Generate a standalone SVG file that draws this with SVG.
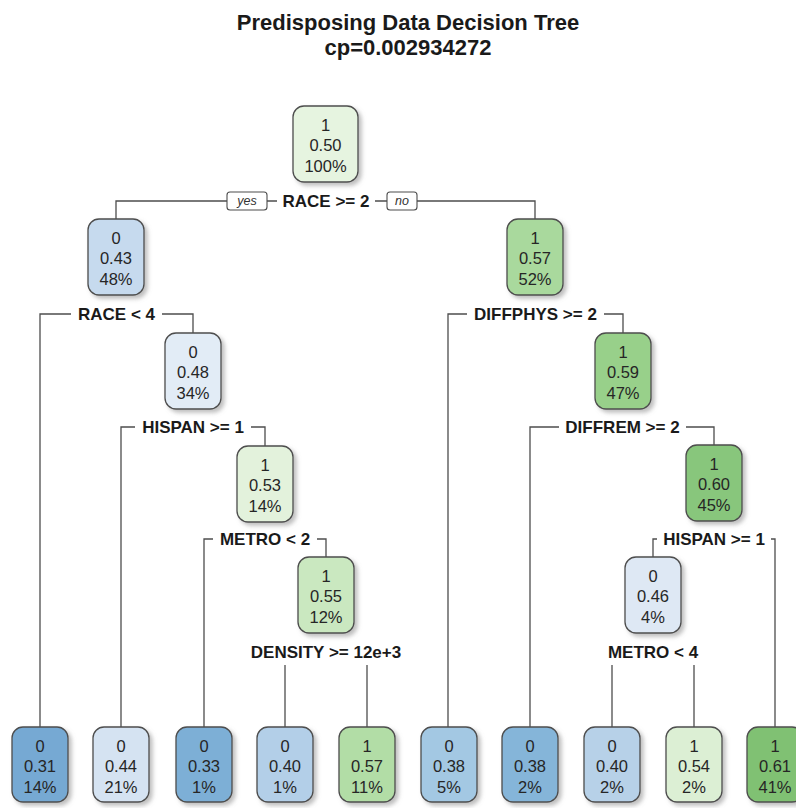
<svg xmlns="http://www.w3.org/2000/svg" width="796" height="808" viewBox="0 0 796 808">
<defs>
<filter id="sh" x="-20%" y="-20%" width="150%" height="150%">
<feDropShadow dx="3" dy="3" stdDeviation="2" flood-color="#888" flood-opacity="0.55"/>
</filter>
<style>
.box{stroke:#4d4d4d;stroke-width:1.3;filter:url(#sh)}
.nt{font-family:"Liberation Sans",Arial,sans-serif;font-size:16.5px;fill:#262626;text-anchor:middle}
.sl{font-family:"Liberation Sans",Arial,sans-serif;font-size:17px;font-weight:bold;fill:#1a1a1a;text-anchor:middle}
.bg{fill:#fff}
.con{fill:none;stroke:#4d4d4d;stroke-width:1.3}
.yn{fill:#fff;stroke:#4d4d4d;stroke-width:1.1}
.ynt{font-family:"Liberation Sans",Arial,sans-serif;font-size:12.5px;font-style:italic;fill:#333;text-anchor:middle}
.title{font-family:"Liberation Sans",Arial,sans-serif;font-size:22px;font-weight:bold;fill:#1a1a1a;text-anchor:middle}
</style>
</defs>
<rect width="796" height="808" fill="#fff"/>
<g id="title">
<text class="title" x="408" y="30">Predisposing Data Decision Tree</text>
<text class="title" x="408" y="55">cp=0.002934272</text>
</g>
<g id="connectors">
<path class="con" d="M116 219V201H535V219"/>
<path class="con" d="M40 727V314H193V333"/>
<path class="con" d="M448 727V314H623V333"/>
<path class="con" d="M121 727V427H265V446"/>
<path class="con" d="M530 727V427H714V445"/>
<path class="con" d="M204 727V539H326V557"/>
<path class="con" d="M653 557V539H775V727"/>
<path class="con" d="M285 727V665"/>
<path class="con" d="M367 727V665"/>
<path class="con" d="M612 727V665"/>
<path class="con" d="M694 727V665"/>
</g>
<g id="n1">
<rect class="box" x="293" y="106" width="65" height="76" rx="11" fill="#E6F4E0"/>
<text class="nt" x="325.5" y="131">1</text><text class="nt" x="325.5" y="151">0.50</text><text class="nt" x="325.5" y="172">100%</text>
<rect class="bg" x="277" y="192" width="98" height="18"/>
<text class="sl" x="326" y="207">RACE &gt;= 2</text>
<rect class="yn" x="227" y="192" width="40" height="18" rx="3"/>
<text class="ynt" x="247" y="205">yes</text>
<rect class="yn" x="387" y="192" width="30" height="18" rx="3"/>
<text class="ynt" x="402" y="205">no</text>
</g>
<g id="n2">
<rect class="box" x="88" y="219" width="56" height="76" rx="11" fill="#C6DAEE"/>
<text class="nt" x="116" y="244">0</text><text class="nt" x="116" y="264">0.43</text><text class="nt" x="116" y="285">48%</text>
<rect class="bg" x="71" y="305" width="91" height="18"/>
<text class="sl" x="116.5" y="320">RACE &lt; 4</text>
</g>
<g id="n3">
<rect class="box" x="507" y="219" width="56" height="76" rx="11" fill="#A9D99D"/>
<text class="nt" x="535" y="244">1</text><text class="nt" x="535" y="264">0.57</text><text class="nt" x="535" y="285">52%</text>
<rect class="bg" x="467" y="305" width="137" height="18"/>
<text class="sl" x="535.5" y="320">DIFFPHYS &gt;= 2</text>
</g>
<g id="n5">
<rect class="box" x="165" y="333" width="56" height="76" rx="11" fill="#E2ECF6"/>
<text class="nt" x="193" y="358">0</text><text class="nt" x="193" y="378">0.48</text><text class="nt" x="193" y="399">34%</text>
<rect class="bg" x="135" y="418" width="116" height="18"/>
<text class="sl" x="193" y="433">HISPAN &gt;= 1</text>
</g>
<g id="n7">
<rect class="box" x="595" y="333" width="56" height="76" rx="11" fill="#98D08A"/>
<text class="nt" x="623" y="358">1</text><text class="nt" x="623" y="378">0.59</text><text class="nt" x="623" y="399">47%</text>
<rect class="bg" x="559" y="418" width="127" height="18"/>
<text class="sl" x="622.5" y="433">DIFFREM &gt;= 2</text>
</g>
<g id="n11">
<rect class="box" x="237" y="446" width="56" height="76" rx="11" fill="#E3F2DC"/>
<text class="nt" x="265" y="471">1</text><text class="nt" x="265" y="491">0.53</text><text class="nt" x="265" y="512">14%</text>
<rect class="bg" x="213" y="530" width="104" height="18"/>
<text class="sl" x="265" y="545">METRO &lt; 2</text>
</g>
<g id="n15">
<rect class="box" x="686" y="445" width="56" height="76" rx="11" fill="#88C67B"/>
<text class="nt" x="714" y="470">1</text><text class="nt" x="714" y="490">0.60</text><text class="nt" x="714" y="511">45%</text>
<rect class="bg" x="657" y="530" width="114" height="18"/>
<text class="sl" x="714" y="545">HISPAN &gt;= 1</text>
</g>
<g id="n23">
<rect class="box" x="298" y="557" width="56" height="76" rx="11" fill="#CAE8C0"/>
<text class="nt" x="326" y="582">1</text><text class="nt" x="326" y="602">0.55</text><text class="nt" x="326" y="623">12%</text>
<text class="sl" x="326" y="658">DENSITY &gt;= 12e+3</text>
</g>
<g id="n30">
<rect class="box" x="625" y="557" width="56" height="76" rx="11" fill="#DEE8F4"/>
<text class="nt" x="653" y="582">0</text><text class="nt" x="653" y="602">0.46</text><text class="nt" x="653" y="623">4%</text>
<text class="sl" x="653" y="658">METRO &lt; 4</text>
</g>
<g id="leaf4">
<rect class="box" x="12" y="727" width="56" height="75" rx="11" fill="#76A9D3"/>
<text class="nt" x="40" y="752">0</text><text class="nt" x="40" y="772">0.31</text><text class="nt" x="40" y="793">14%</text>
</g>
<g id="leaf10">
<rect class="box" x="93" y="727" width="56" height="75" rx="11" fill="#D5E3F2"/>
<text class="nt" x="121" y="752">0</text><text class="nt" x="121" y="772">0.44</text><text class="nt" x="121" y="793">21%</text>
</g>
<g id="leaf22">
<rect class="box" x="176" y="727" width="56" height="75" rx="11" fill="#7DAFD6"/>
<text class="nt" x="204" y="752">0</text><text class="nt" x="204" y="772">0.33</text><text class="nt" x="204" y="793">1%</text>
</g>
<g id="leaf46">
<rect class="box" x="257" y="727" width="56" height="75" rx="11" fill="#B3CFE8"/>
<text class="nt" x="285" y="752">0</text><text class="nt" x="285" y="772">0.40</text><text class="nt" x="285" y="793">1%</text>
</g>
<g id="leaf47">
<rect class="box" x="339" y="727" width="56" height="75" rx="11" fill="#B2DDA6"/>
<text class="nt" x="367" y="752">1</text><text class="nt" x="367" y="772">0.57</text><text class="nt" x="367" y="793">11%</text>
</g>
<g id="leaf6">
<rect class="box" x="421" y="727" width="56" height="75" rx="11" fill="#A3C8E3"/>
<text class="nt" x="449" y="752">0</text><text class="nt" x="449" y="772">0.38</text><text class="nt" x="449" y="793">5%</text>
</g>
<g id="leaf14">
<rect class="box" x="502" y="727" width="56" height="75" rx="11" fill="#85B5D9"/>
<text class="nt" x="530" y="752">0</text><text class="nt" x="530" y="772">0.38</text><text class="nt" x="530" y="793">2%</text>
</g>
<g id="leaf60">
<rect class="box" x="584" y="727" width="56" height="75" rx="11" fill="#B7D1E8"/>
<text class="nt" x="612" y="752">0</text><text class="nt" x="612" y="772">0.40</text><text class="nt" x="612" y="793">2%</text>
</g>
<g id="leaf61">
<rect class="box" x="666" y="727" width="56" height="75" rx="11" fill="#DCEFD4"/>
<text class="nt" x="694" y="752">1</text><text class="nt" x="694" y="772">0.54</text><text class="nt" x="694" y="793">2%</text>
</g>
<g id="leaf31">
<rect class="box" x="747" y="727" width="56" height="75" rx="11" fill="#80C173"/>
<text class="nt" x="775" y="752">1</text><text class="nt" x="775" y="772">0.61</text><text class="nt" x="775" y="793">41%</text>
</g>
</svg>
